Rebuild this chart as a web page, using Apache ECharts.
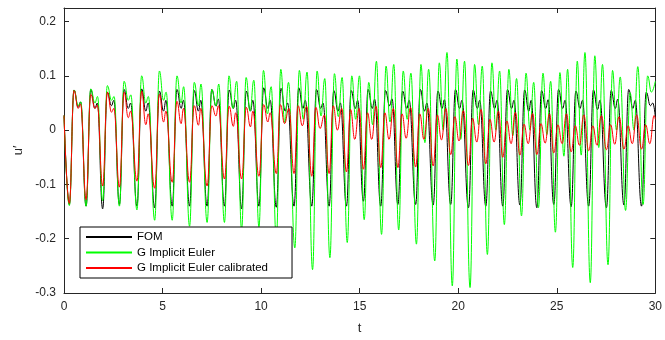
<!DOCTYPE html>
<html><head><meta charset="utf-8">
<script src="https://cdn.jsdelivr.net/npm/echarts@6/dist/echarts.min.js"></script>
<style>html,body{margin:0;padding:0;background:#fff}#c{width:665px;height:340px}</style>
</head><body><div id="c"></div>
<script>
const seriesNames = ['FOM', 'G Implicit Euler', 'G Implicit Euler calibrated'];
const xTickValues = [0, 5, 10, 15, 20, 25, 30];
const yTickValues = [-0.3, -0.2, -0.1, 0, 0.1, 0.2];

// FOM: [t, u'] at the extrema
const fomPoints = [[0,0.027],
[0.27,-0.137],[0.51,0.074],[0.72,0.042],[0.84,0.052],
[1.12,-0.14],[1.36,0.075],[1.57,0.04],[1.69,0.05],
[1.96,-0.145],[2.2,0.07],[2.41,0.045],[2.53,0.055],
[2.81,-0.137],[3.05,0.075],[3.26,0.04],[3.38,0.05],
[3.7,-0.14],[3.94,0.076],[4.15,0.035],[4.27,0.05],
[4.6,-0.143],[4.84,0.072],[5.05,0.035],[5.17,0.055],
[5.49,-0.14],[5.73,0.075],[5.94,0.04],[6.06,0.055],
[6.37,-0.14],[6.61,0.073],[6.82,0.035],[6.94,0.055],
[7.26,-0.14],[7.5,0.075],[7.71,0.044],[7.83,0.057],
[8.14,-0.14],[8.38,0.074],[8.59,0.04],[8.71,0.055],
[9.01,-0.145],[9.25,0.072],[9.46,0.035],[9.58,0.055],
[9.89,-0.14],[10.13,0.078],[10.34,0.04],[10.46,0.055],
[10.77,-0.142],[11.01,0.077],[11.22,0.035],[11.34,0.05],
[11.67,-0.14],[11.91,0.078],[12.12,0.04],[12.24,0.055],
[12.57,-0.14],[12.81,0.075],[13.02,0.04],[13.14,0.05],
[13.45,-0.14],[13.69,0.073],[13.9,0.035],[14.02,0.05],
[14.33,-0.14],[14.57,0.073],[14.78,0.04],[14.9,0.055],
[15.19,-0.131],[15.43,0.075],[15.64,0.04],[15.76,0.057],
[16.07,-0.14],[16.31,0.073],[16.52,0.045],[16.64,0.058],
[16.94,-0.137],[17.18,0.072],[17.39,0.04],[17.51,0.055],
[17.84,-0.137],[18.08,0.075],[18.29,0.035],[18.41,0.05],
[18.73,-0.138],[18.97,0.072],[19.18,0.04],[19.3,0.056],
[19.62,-0.137],[19.86,0.075],[20.07,0.04],[20.19,0.055],
[20.52,-0.143],[20.76,0.074],[20.97,0.04],[21.09,0.055],
[21.4,-0.14],[21.64,0.072],[21.85,0.04],[21.97,0.055],
[22.26,-0.14],[22.5,0.075],[22.71,0.04],[22.83,0.055],
[23.13,-0.138],[23.37,0.074],[23.58,0.035],[23.7,0.055],
[23.99,-0.143],[24.23,0.073],[24.44,0.04],[24.56,0.056],
[24.85,-0.137],[25.09,0.075],[25.3,0.04],[25.42,0.055],
[25.73,-0.141],[25.97,0.072],[26.18,0.04],[26.3,0.055],
[26.62,-0.14],[26.86,0.074],[27.07,0.038],[27.19,0.055],
[27.52,-0.143],[27.76,0.073],[27.97,0.04],[28.09,0.057],
[28.41,-0.138],[28.65,0.075],[28.86,0.04],[28.98,0.055],
[29.3,-0.14],[29.54,0.07],[29.75,0.045],[29.87,0.05],
[30,0.025]];

// G Implicit Euler
const giePoints = [[0,0.027],
[0.27,-0.139],[0.51,0.074],[0.72,0.045],[0.85,0.052],
[1.12,-0.14],[1.36,0.076],[1.57,0.05],[1.7,0.062],
[1.96,-0.13],[2.2,0.082],[2.41,0.055],[2.54,0.062],
[2.81,-0.14],[3.05,0.09],[3.26,0.055],[3.39,0.065],
[3.7,-0.147],[3.94,0.1],[4.15,0.05],[4.28,0.062],
[4.6,-0.166],[4.84,0.109],[5.05,0.055],[5.18,0.07],
[5.49,-0.166],[5.73,0.1],[5.94,0.05],[6.07,0.08],
[6.37,-0.177],[6.61,0.088],[6.82,0.045],[6.95,0.085],
[7.26,-0.17],[7.5,0.075],[7.71,0.045],[7.85,0.085],
[8.14,-0.17],[8.37,0.1],[8.57,0.04],[8.76,0.09],
[9.01,-0.183],[9.24,0.097],[9.44,0.035],[9.63,0.092],
[9.89,-0.178],[10.12,0.11],[10.32,0.03],[10.51,0.08],
[10.77,-0.2],[11,0.112],[11.2,0.014],[11.39,0.088],
[11.71,-0.217],[11.94,0.11],[12.14,0.02],[12.33,0.107],
[12.61,-0.257],[12.84,0.109],[13.04,0.026],[13.23,0.095],
[13.49,-0.235],[13.72,0.104],[13.92,0.025],[14.11,0.097],
[14.37,-0.207],[14.6,0.1],[14.8,0.02],[14.99,0.1],
[15.23,-0.165],[15.46,0.088],[15.66,0.01],[15.85,0.127],
[16.11,-0.192],[16.34,0.118],[16.54,0.015],[16.73,0.121],
[16.98,-0.184],[17.21,0.109],[17.41,0.02],[17.6,0.105],
[17.88,-0.21],[18.11,0.121],[18.31,-0.023],[18.5,0.112],
[18.81,-0.241],[19.04,0.124],[19.24,0.0],[19.43,0.143],
[19.7,-0.287],[19.93,0.131],[20.13,-0.017],[20.32,0.127],
[20.6,-0.29],[20.83,0.121],[21.03,0.01],[21.22,0.118],
[21.48,-0.229],[21.71,0.124],[21.91,0.0],[22.1,0.109],
[22.34,-0.174],[22.57,0.112],[22.77,-0.01],[22.96,0.095],
[23.21,-0.158],[23.44,0.105],[23.64,0.0],[23.83,0.088],
[24.07,-0.143],[24.3,0.105],[24.5,-0.008],[24.69,0.09],
[24.93,-0.188],[25.16,0.106],[25.36,-0.048],[25.55,0.112],
[25.81,-0.253],[26.04,0.127],[26.24,-0.046],[26.43,0.143],
[26.7,-0.281],[26.93,0.137],[27.13,-0.032],[27.32,0.121],
[27.6,-0.248],[27.83,0.11],[28.03,0.0],[28.22,0.098],
[28.49,-0.148],[28.72,0.069],[28.92,0.0],[29.11,0.117],
[29.38,-0.137],[29.61,0.1],[29.8,0.07],[30,0.09]];

// G Implicit Euler calibrated
const giecPoints = [[0,0.027],
[0.27,-0.135],[0.51,0.073],[0.72,0.04],[0.84,0.048],
[1.12,-0.128],[1.36,0.066],[1.57,0.04],[1.69,0.046],
[1.96,-0.103],[2.2,0.07],[2.41,0.033],[2.53,0.04],
[2.81,-0.105],[3.05,0.07],[3.26,0.023],[3.38,0.035],
[3.7,-0.094],[3.94,0.072],[4.15,0.01],[4.27,0.03],
[4.6,-0.107],[4.84,0.066],[5.05,0.015],[5.17,0.035],
[5.49,-0.096],[5.73,0.053],[5.94,0.012],[6.06,0.04],
[6.37,-0.096],[6.61,0.045],[6.82,0.009],[6.94,0.04],
[7.26,-0.103],[7.5,0.045],[7.71,0.026],[7.83,0.045],
[8.14,-0.09],[8.38,0.044],[8.59,0.007],[8.71,0.032],
[9.01,-0.09],[9.25,0.042],[9.46,0.006],[9.58,0.035],
[9.89,-0.085],[10.13,0.047],[10.34,0.015],[10.46,0.032],
[10.77,-0.08],[10.98,0.047],[11.19,0.012],[11.41,0.04],
[11.67,-0.08],[11.88,0.045],[12.09,0.008],[12.31,0.044],
[12.57,-0.085],[12.78,0.042],[12.99,0.003],[13.21,0.028],
[13.45,-0.08],[13.66,0.045],[13.87,0.0],[14.09,0.04],
[14.33,-0.077],[14.54,0.038],[14.75,-0.017],[14.97,0.04],
[15.19,-0.072],[15.4,0.032],[15.61,-0.017],[15.83,0.044],
[16.07,-0.069],[16.28,0.032],[16.49,-0.017],[16.71,0.04],
[16.94,-0.069],[17.15,0.03],[17.36,-0.015],[17.58,0.042],
[17.84,-0.068],[18.05,0.03],[18.26,-0.017],[18.48,0.04],
[18.73,-0.066],[18.94,0.028],[19.15,-0.018],[19.37,0.04],
[19.62,-0.045],[19.83,0.025],[20.04,-0.02],[20.26,0.036],
[20.52,-0.065],[20.73,0.022],[20.94,-0.022],[21.16,0.038],
[21.4,-0.062],[21.61,0.02],[21.82,-0.022],[22.04,0.035],
[22.26,-0.05],[22.47,0.017],[22.68,-0.025],[22.9,0.033],
[23.13,-0.046],[23.34,0.011],[23.55,-0.025],[23.77,0.031],
[23.99,-0.045],[24.2,0.012],[24.41,-0.024],[24.63,0.03],
[24.85,-0.042],[25.06,0.01],[25.27,-0.025],[25.49,0.03],
[25.73,-0.04],[25.94,0.008],[26.15,-0.028],[26.37,0.028],
[26.62,-0.038],[26.83,0.008],[27.04,-0.028],[27.26,0.027],
[27.52,-0.036],[27.73,0.01],[27.94,-0.026],[28.16,0.025],
[28.41,-0.035],[28.62,0.008],[28.83,-0.025],[29.05,0.028],
[29.3,-0.035],[29.51,0.01],[29.72,-0.025],[29.94,0.027],
[30,0.02]];

const FONT = '"Liberation Sans", Arial, Helvetica, sans-serif';
const AX = '#262626';
const chart = echarts.init(document.getElementById('c'), null, {renderer: 'canvas'});
const fmtY = v => { const r = Math.round(v * 10) / 10; return r === 0 ? '0' : String(r); };
const baseX = {
  type: 'value', min: xTickValues[0], max: xTickValues[xTickValues.length - 1], interval: 5,
  axisLine: {show: true, onZero: false, lineStyle: {color: AX, width: 1}},
  axisTick: {show: true, inside: true, length: 5, lineStyle: {color: AX}},
  splitLine: {show: false}
};
const baseY = {
  type: 'value', min: yTickValues[0], max: 0.225, interval: 0.1,
  axisLine: {show: true, onZero: false, lineStyle: {color: AX, width: 1}},
  axisTick: {show: true, inside: true, length: 5, lineStyle: {color: AX}},
  splitLine: {show: false}
};
const mk = (name, data, color) => ({
  name, type: 'line', data, smooth: 0.45, smoothMonotone: 'x', symbol: 'none',
  lineStyle: {color, width: 1}, itemStyle: {color}, animation: false, clip: true
});
chart.setOption({
  animation: false,
  backgroundColor: '#fff',
  grid: {left: 64, right: 8, top: 8, bottom: 47, containLabel: false},
  xAxis: [
    Object.assign({}, baseX, {position: 'bottom',
      axisLabel: {show: true, color: AX, fontSize: 12, fontFamily: FONT, margin: 8},
      name: 't', nameLocation: 'middle', nameGap: 29,
      nameTextStyle: {color: AX, fontSize: 13, fontFamily: FONT}}),
    Object.assign({}, baseX, {position: 'top', axisLabel: {show: false}})
  ],
  yAxis: [
    Object.assign({}, baseY, {position: 'left',
      axisLabel: {show: true, color: AX, fontSize: 12, fontFamily: FONT, margin: 8,
        showMaxLabel: false, formatter: fmtY},
      name: 'u\u2032', nameLocation: 'middle', nameGap: 33, nameRotate: 90,
      nameTextStyle: {color: AX, fontSize: 13, fontFamily: FONT}}),
    Object.assign({}, baseY, {position: 'right', axisLabel: {show: false}})
  ],
  legend: {
    show: true, orient: 'vertical', left: 80, top: 227,
    data: seriesNames, selectedMode: false,
    backgroundColor: '#fff', borderColor: '#000', borderWidth: 1, borderRadius: 0,
    padding: [4, 24, 4, 5], itemWidth: 46, itemHeight: 14, itemGap: 3.5, itemTextGap: 6,
    itemStyle: {opacity: 0},
    textStyle: {color: '#000', fontSize: 11.5, fontFamily: FONT}
  },
  series: [
    mk(seriesNames[0], fomPoints, '#000000'),
    mk(seriesNames[1], giePoints, '#00ff00'),
    mk(seriesNames[2], giecPoints, '#ff0000')
  ]
});
</script></body></html>
